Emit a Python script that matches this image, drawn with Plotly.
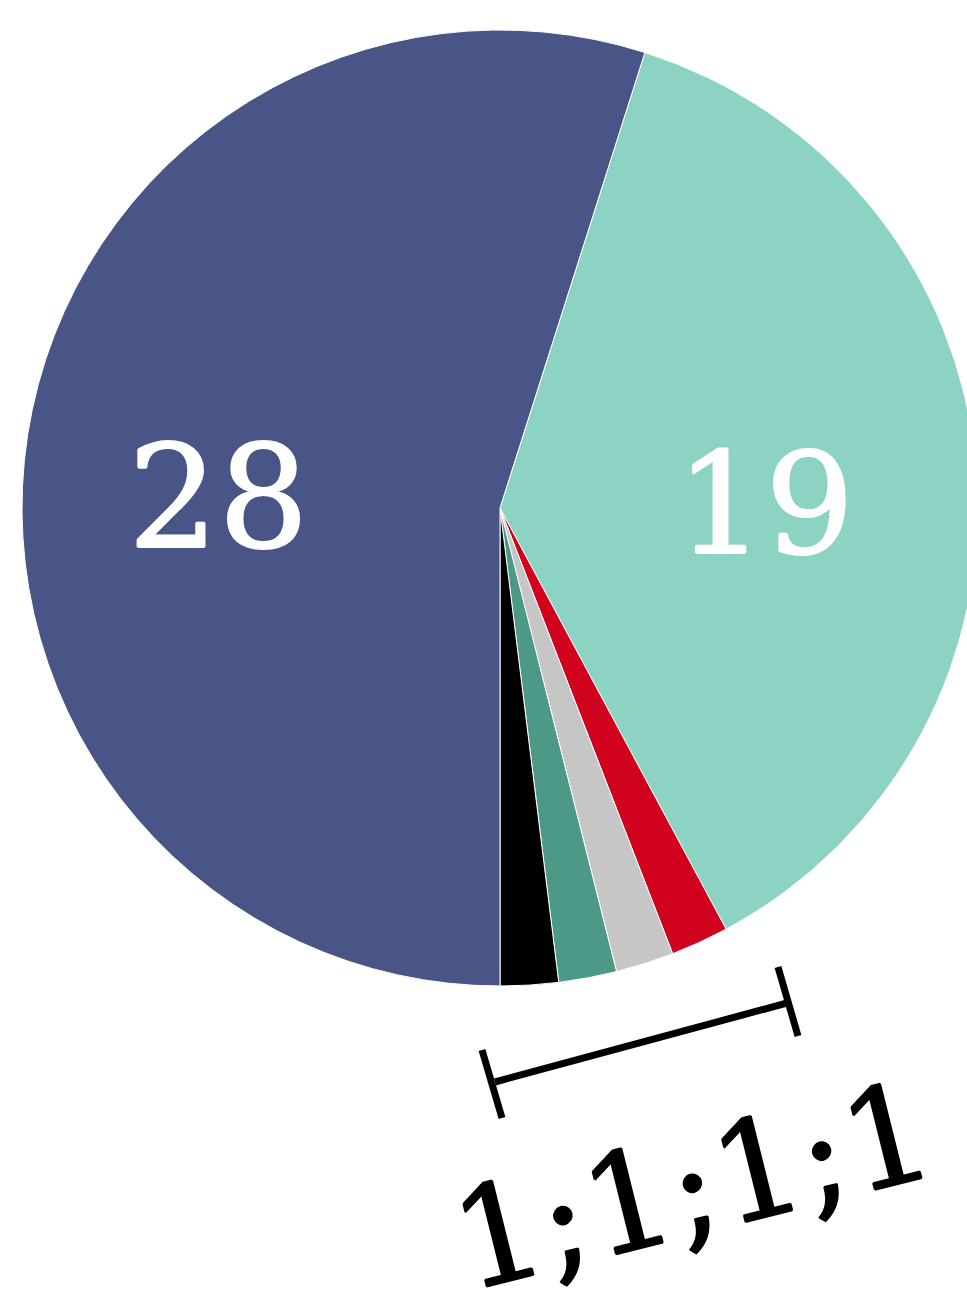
import plotly.graph_objects as go

# ---- data ----
labels = ["Group A", "Group B", "Group C", "Group D", "Group E", "Group F"]
values = [19, 1, 1, 1, 1, 28]
colors = ["#8cd3c3", "#d0021e", "#c6c6c6", "#4b9986", "#000000", "#4a5587"]
big_labels = [str(values[0]), str(values[-1])]
small_values = [1, 1, 1, 1]
bracket_label = ";".join(str(v) for v in small_values)

total = sum(values)
big_blue = values[-1]
rotation = big_blue / total * 360 - 180  # first slice starts where the big slice ends

W, H = 978, 1296
L, R, T, B = 22, 0, 30, 310
PW, PH = W - L - R, H - T - B


def px(x):
    return (x - L) / PW


def py(y):
    return (H - B - y) / PH


def thicken(c, d=0.9):
    return ", ".join(f"{a}px {b}px 0 {c}" for a, b in [(d, 0), (-d, 0), (0, d), (0, -d)])


fig = go.Figure(
    go.Pie(
        labels=labels,
        values=values,
        sort=False,
        direction="clockwise",
        rotation=rotation,
        marker=dict(colors=colors, line=dict(color="white", width=1)),
        textinfo="none",
        showlegend=False,
        hoverinfo="label+value",
    )
)

shapes = []
line_style = dict(color="black", width=7)
for (x0, y0, x1, y1) in [(495, 1082, 787, 1003), (482, 1050, 502, 1118), (778, 967, 798, 1036)]:
    shapes.append(dict(type="line", xref="paper", yref="paper",
                       x0=px(x0), y0=py(y0), x1=px(x1), y1=py(y1), line=line_style))

serif = "DejaVu Serif"
annotations = [
    dict(text=big_labels[1], x=px(218), y=py(497), xref="paper", yref="paper",
         xanchor="center", yanchor="middle", showarrow=False,
         font=dict(family=serif, size=142, color="white", shadow=thicken("white"))),
    dict(text=big_labels[0], x=px(765), y=py(504), xref="paper", yref="paper",
         xanchor="center", yanchor="middle", showarrow=False,
         font=dict(family=serif, size=140, color="white", shadow=thicken("white"))),
    dict(text=bracket_label, x=px(692), y=py(1186), xref="paper", yref="paper",
         xanchor="center", yanchor="middle", showarrow=False, textangle=-14,
         font=dict(family=serif, size=137, color="black", shadow=thicken("black"))),
]

fig.update_layout(
    width=W,
    height=H,
    margin=dict(l=L, r=R, t=T, b=B),
    paper_bgcolor="white",
    plot_bgcolor="white",
    shapes=shapes,
    annotations=annotations,
)

fig.write_html(
    "out.html",
    config={"displayModeBar": False},
    post_script="document.body.style.margin='0';document.body.style.overflow='hidden';",
)
